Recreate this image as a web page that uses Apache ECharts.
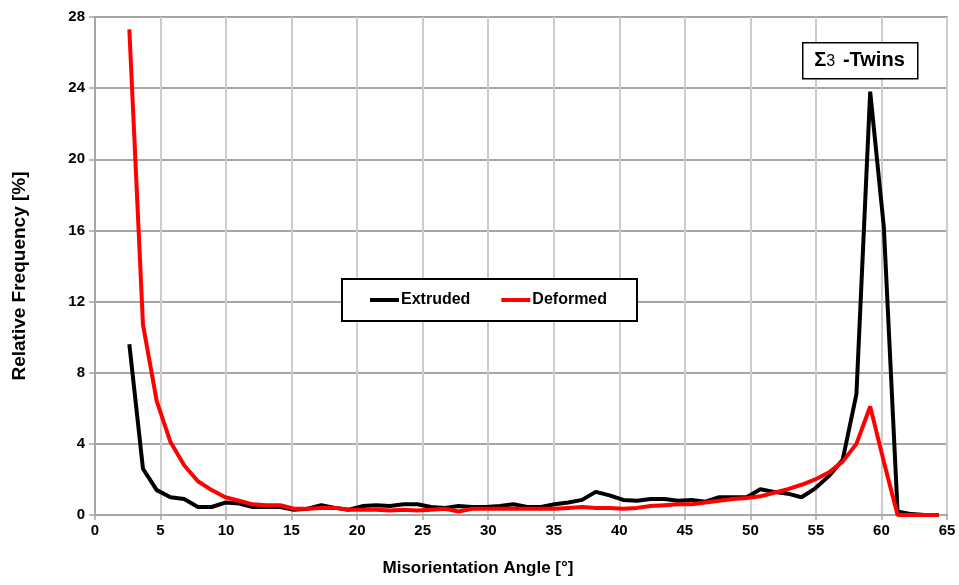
<!DOCTYPE html>
<html>
<head>
<meta charset="utf-8">
<script src="https://cdn.jsdelivr.net/npm/echarts@6/dist/echarts.min.js"></script>
<style>html,body{margin:0;padding:0;background:#fff}#chart{width:959px;height:585px}</style>
</head>
<body>
<div id="chart"></div>
<script>
// Misorientation angle bin centres [deg]
var angles = [2.62, 3.66, 4.71, 5.76, 6.80, 7.85, 8.90, 9.94, 10.99, 12.04,
  13.08, 14.13, 15.18, 16.22, 17.27, 18.32, 19.36, 20.41, 21.46, 22.50,
  23.55, 24.60, 25.64, 26.69, 27.74, 28.78, 29.83, 30.88, 31.92, 32.97,
  34.02, 35.06, 36.11, 37.16, 38.20, 39.25, 40.30, 41.34, 42.39, 43.44,
  44.48, 45.53, 46.58, 47.62, 48.67, 49.72, 50.76, 51.81, 52.86, 53.90,
  54.95, 56.00, 57.04, 58.09, 59.14, 60.18, 61.23, 62.28, 63.32, 64.37];
// Relative frequency [%]
var extruded = [9.6, 2.6, 1.4, 1.0, 0.9, 0.45, 0.45, 0.7, 0.65, 0.45,
  0.45, 0.45, 0.3, 0.35, 0.55, 0.4, 0.3, 0.5, 0.55, 0.5,
  0.6, 0.6, 0.45, 0.4, 0.5, 0.45, 0.45, 0.5, 0.6, 0.45,
  0.45, 0.6, 0.7, 0.85, 1.3, 1.1, 0.85, 0.8, 0.9, 0.9,
  0.8, 0.85, 0.75, 1.0, 1.0, 1.0, 1.45, 1.3, 1.2, 1.0,
  1.5, 2.2, 3.1, 6.8, 23.8, 16.2, 0.2, 0.05, 0, 0];
var deformed = [27.3, 10.7, 6.4, 4.1, 2.8, 1.9, 1.4, 1.0, 0.8, 0.6,
  0.55, 0.55, 0.35, 0.35, 0.4, 0.4, 0.3, 0.3, 0.3, 0.25,
  0.3, 0.25, 0.3, 0.35, 0.2, 0.35, 0.35, 0.35, 0.35, 0.35,
  0.35, 0.35, 0.4, 0.45, 0.4, 0.4, 0.35, 0.4, 0.5, 0.55,
  0.6, 0.6, 0.7, 0.8, 0.9, 0.95, 1.05, 1.25, 1.45, 1.7,
  2.0, 2.4, 3.0, 4.0, 6.1, 3.0, 0, 0, 0, 0];
var seriesNames = ['Extruded', 'Deformed'];
var xTitle = 'Misorientation Angle [°]';
var yTitle = 'Relative Frequency [%]';

function pairs(xs, ys) { return xs.map(function (x, i) { return [x, ys[i]]; }); }

var font = 'Liberation Sans, Arial, sans-serif';
var chart = echarts.init(document.getElementById('chart'));
chart.setOption({
  animation: false,
  backgroundColor: '#ffffff',
  grid: { left: 95, right: 12, top: 17, bottom: 70, show: true, borderColor: '#a6a6a6', borderWidth: 2 },
  xAxis: {
    type: 'value', min: 0, max: 65, interval: 5,
    name: xTitle, nameLocation: 'middle', nameGap: 45,
    nameTextStyle: { fontFamily: font, fontWeight: 'bold', fontSize: 17, color: '#000', padding: [0, 86, 0, 0] },
    axisLine: { show: true, lineStyle: { color: '#a6a6a6', width: 2 } },
    axisTick: { show: true, length: 5, lineStyle: { color: '#a6a6a6', width: 1.5 } },
    axisLabel: { fontFamily: font, fontWeight: 'bold', fontSize: 15, color: '#000', margin: 8 },
    splitLine: { show: true, lineStyle: { color: '#cccccc', width: 2 } }
  },
  yAxis: {
    type: 'value', min: 0, max: 28, interval: 4,
    name: yTitle, nameLocation: 'middle', nameGap: 66, nameRotate: 90,
    nameTextStyle: { fontFamily: font, fontWeight: 'bold', fontSize: 19, color: '#000', padding: [0, 20, 0, 0] },
    axisLine: { show: true, lineStyle: { color: '#a6a6a6', width: 2 } },
    axisTick: { show: true, length: 6, lineStyle: { color: '#a6a6a6', width: 1.5 } },
    axisLabel: { fontFamily: font, fontWeight: 'bold', fontSize: 15, color: '#000', margin: 10 },
    splitLine: { show: true, lineStyle: { color: '#a6a6a6', width: 2 } }
  },
  legend: {
    data: seriesNames,
    left: 342, top: 279,
    padding: [13, 30, 13, 28],
    itemGap: 31, itemWidth: 29, itemHeight: 4,
    icon: 'rect',
    borderColor: '#000', borderWidth: 2, backgroundColor: '#fff',
    textStyle: { fontFamily: font, fontWeight: 'bold', fontSize: 16, color: '#000', padding: [0, 0, 0, -3] }
  },
  series: [
    { name: seriesNames[0], type: 'line', data: pairs(angles, extruded), showSymbol: false, symbol: 'none',
      lineStyle: { color: '#000000', width: 4 }, itemStyle: { color: '#000000' } },
    { name: seriesNames[1], type: 'line', data: pairs(angles, deformed), showSymbol: false, symbol: 'none',
      lineStyle: { color: '#ff0000', width: 4 }, itemStyle: { color: '#ff0000' } }
  ],
  graphic: [
    { type: 'rect', left: 802, top: 42, shape: { width: 115, height: 36 },
      style: { fill: '#ffffff', stroke: '#000', lineWidth: 1.5 }, z: 100 },
    { type: 'text', x: 859.5, y: 60, z: 101,
      style: {
        text: '{s|Σ}{n|3 } {t|-Twins}', align: 'center', verticalAlign: 'middle',
        rich: {
          s: { fontFamily: font, fontWeight: 'bold', fontSize: 20, fill: '#000' },
          n: { fontFamily: font, fontWeight: 'normal', fontSize: 16, fill: '#000', padding: [3, 0, 0, 0] },
          t: { fontFamily: font, fontWeight: 'bold', fontSize: 20, fill: '#000' }
        }
      } }
  ]
});
</script>
</body>
</html>
